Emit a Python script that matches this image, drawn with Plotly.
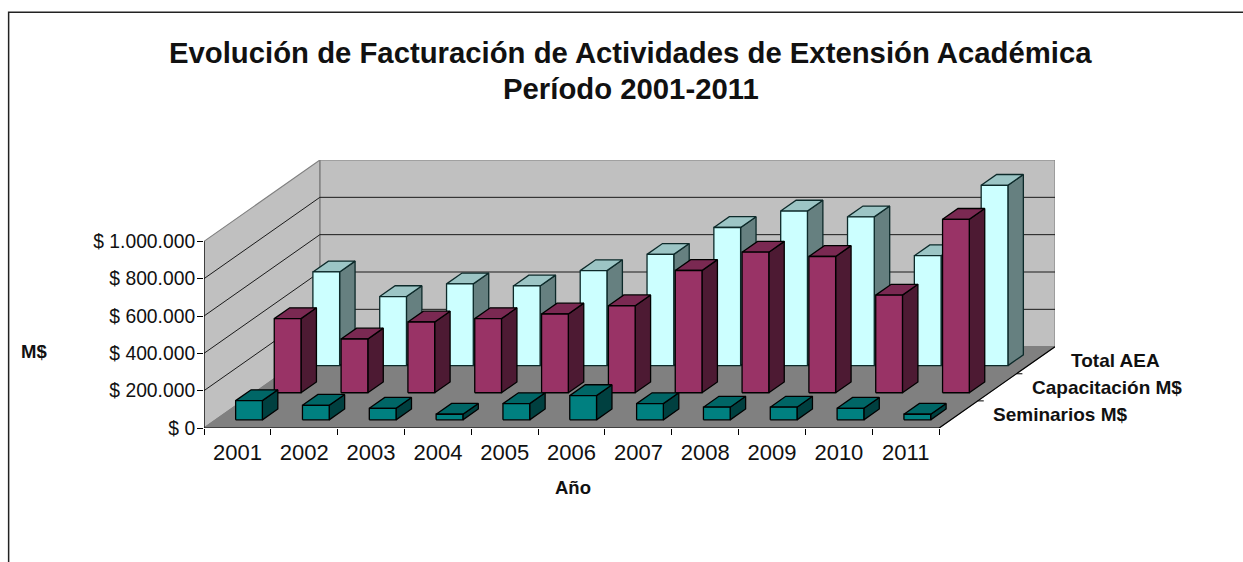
import plotly.graph_objects as go

years = ["2001","2002","2003","2004","2005","2006","2007","2008","2009","2010","2011"]
seminarios = [103000, 78000, 62000, 30000, 87000, 130000, 87000, 68000, 68000, 62000, 30000]
capacitacion = [397000, 288000, 379000, 397000, 422000, 466000, 655000, 753000, 730000, 523000, 929000]
total_aea = [502000, 370000, 438000, 427000, 509000, 596000, 740000, 828000, 797000, 589000, 966000]
y_ticks = [0, 200000, 400000, 600000, 800000, 1000000]
y_tick_labels = ["$ 0", "$ 200.000", "$ 400.000", "$ 600.000", "$ 800.000", "$ 1.000.000"]
series_names = ["Seminarios M$", "Capacitación M$", "Total AEA"]

W, H = 1243, 562
L, R, T, B = 204.3, 1055.0, 160.0, 428.3      # plot box in page pixels
CAT_PX = (938.3 - 204.3) / 11
VAL_PX = 187.3 / 1e6
DX = 115.7 / CAT_PX      # depth axis, in category units
DY = 81.6 / VAL_PX       # depth axis, in value units
N = len(years)
FONT = "Liberation Sans, Arial, sans-serif"
INK = "#111111"

def proj(x, v, d):
    return x + DX * d, v + DY * d

def poly(points):
    xs, ys = [], []
    for x, v, d in points + [points[0]]:
        px, py = proj(x, v, d)
        xs.append(px); ys.append(py)
    return xs + [None], ys + [None]

def face_trace(polys, fill, line, name, width=1.3):
    xs, ys = [], []
    for p in polys:
        a, b = poly(p)
        xs += a; ys += b
    return go.Scatter(x=xs, y=ys, mode="lines", fill="toself", fillcolor=fill,
                      line=dict(color=line, width=width), hoverinfo="skip",
                      showlegend=False, name=name, cliponaxis=False)

def line_trace(points, color, width, name):
    xs, ys = [], []
    for seg in points:
        for x, v, d in seg:
            px, py = proj(x, v, d)
            xs.append(px); ys.append(py)
        xs.append(None); ys.append(None)
    return go.Scatter(x=xs, y=ys, mode="lines", line=dict(color=color, width=width),
                      hoverinfo="skip", showlegend=False, name=name, cliponaxis=False)

fig = go.Figure()
top = y_ticks[-1]
# walls and floor
fig.add_trace(face_trace([[(0, 0, 1), (N, 0, 1), (N, top, 1), (0, top, 1)],
                          [(0, 0, 0), (0, 0, 1), (0, top, 1), (0, top, 0)]],
                         "#C0C0C0", "#808080", "walls", 1.1))
fig.add_trace(face_trace([[(0, 0, 0), (N, 0, 0), (N, 0, 1), (0, 0, 1)]],
                         "#808080", "#808080", "floor", 1.1))
grid = [[(0, v, 0), (0, v, 1), (N, v, 1)] for v in y_ticks[1:-1]]
fig.add_trace(line_trace(grid, "#1a1a1a", 1, "grid"))
fig.add_trace(line_trace([[(0, y_ticks[-1], 0), (0, 0, 0), (N, 0, 0), (N, 0, 1)]], "#000000", 1.2, "axes"))

# bars, back row first
styles = [
    (2, total_aea, "#CCFFFF", "#9CC5C5", "#668080", "#0d2a2a"),
    (1, capacitacion, "#993366", "#7A2952", "#4D1A33", "#000000"),
    (0, seminarios, "#008080", "#006666", "#004040", "#000000"),
]
for row, vals, front, topc, side, edge in styles:
    d0, d1 = (row + 0.3) / 3, (row + 0.7) / 3
    fronts, tops, sides = [], [], []
    for i, v in enumerate(vals):
        x0, x1 = i + 0.3, i + 0.7
        fronts.append([(x0, 0, d0), (x1, 0, d0), (x1, v, d0), (x0, v, d0)])
        tops.append([(x0, v, d0), (x1, v, d0), (x1, v, d1), (x0, v, d1)])
        sides.append([(x1, 0, d0), (x1, 0, d1), (x1, v, d1), (x1, v, d0)])
    nm = series_names[row]
    fig.add_trace(face_trace(sides, side, edge, nm + " lateral"))
    fig.add_trace(face_trace(tops, topc, edge, nm + " superior"))
    fig.add_trace(face_trace(fronts, front, edge, nm))

# depth axis ticks
tick_w = 6 / CAT_PX
fig.add_trace(line_trace([[(N, 0, r / 3), (N + tick_w, 0, r / 3)] for r in (1, 2, 3)],
                         "#000000", 1, "depth ticks"))

# depth axis labels
for row, nm in enumerate(series_names):
    d = (row + 0.5) / 3
    px, py = proj(N, 0, d)
    fig.add_annotation(x=px, y=py, xref="x", yref="y", text="<b>%s</b>" % nm, showarrow=False,
                       xanchor="left", yanchor="middle", xshift=33,
                       font=dict(family=FONT, size=19, color=INK))

def px_x(p): return (p - L) / (R - L)
def px_y(p): return (B - p) / (B - T)

def label(text, cx, cy, size):
    fig.add_annotation(x=px_x(cx), y=px_y(cy), xref="paper", yref="paper", text="<b>%s</b>" % text,
                       showarrow=False, xanchor="center", yanchor="middle",
                       font=dict(family=FONT, size=size, color=INK))

label("M$", 34, 352, 18.5)
label("Año", 573, 488, 18.5)
label("Evolución de Facturación de Actividades de Extensión Académica", 631, 52, 29.3)
label("Período 2001-2011", 631, 88, 29.3)

# chart frame
fig.add_shape(type="path", xref="paper", yref="paper", layer="below",
              path="M %f %f L %f %f L %f %f" % (px_x(9), px_y(580), px_x(9), px_y(12), px_x(1260), px_y(12)),
              line=dict(color="#222222", width=1.5))

fig.update_layout(
    width=W, height=H, paper_bgcolor="white", plot_bgcolor="rgba(0,0,0,0)",
    margin=dict(l=L, r=W - R, t=T, b=H - B, pad=0),
    font=dict(family=FONT, size=19.3, color=INK),
    xaxis=dict(range=[0, N + DX], showgrid=False, zeroline=False, showline=False,
               tickmode="array", tickvals=[i + 0.5 for i in range(N)], ticktext=years,
               ticks="", ticklen=6, ticklabelstandoff=9, tickfont=dict(family=FONT, size=22, color=INK),
               minor=dict(ticks="outside", tickmode="array", tickvals=list(range(N + 1)),
                          ticklen=6, tickcolor="#000000", tickwidth=1, showgrid=False)),
    yaxis=dict(range=[0, top + DY], showgrid=False, zeroline=False, showline=False,
               tickmode="array", tickvals=y_ticks, ticktext=y_tick_labels, ticklabelstandoff=-2,
               ticks="outside", ticklen=6, tickcolor="#000000", tickwidth=1),
)

fig.write_html("out.html", config={"displayModeBar": False},
               post_script="document.body.style.margin='0';document.body.style.overflow='hidden';")
